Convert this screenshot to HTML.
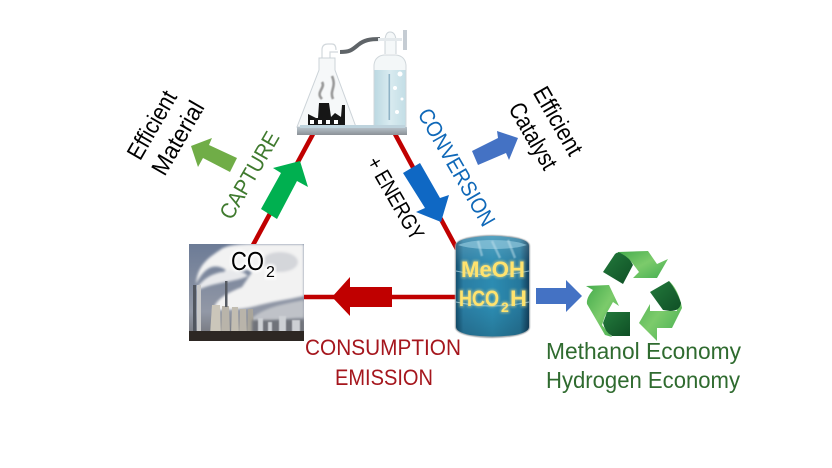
<!DOCTYPE html>
<html><head><meta charset="utf-8"><style>
html,body{margin:0;padding:0;background:#fff}
svg{display:block}
text{font-family:"Liberation Sans",sans-serif}
</style></head><body>
<svg width="832" height="468" viewBox="0 0 832 468" xmlns="http://www.w3.org/2000/svg">
<defs>
<filter id="b1" x="-30%" y="-30%" width="160%" height="160%"><feGaussianBlur stdDeviation="1.2"/></filter>
<filter id="b2" x="-30%" y="-30%" width="160%" height="160%"><feGaussianBlur stdDeviation="0.6"/></filter>
<filter id="gl" x="-20%" y="-30%" width="140%" height="160%"><feGaussianBlur stdDeviation="1.4"/></filter>
<linearGradient id="sky" x1="0" y1="0" x2="0" y2="1"><stop offset="0" stop-color="#6c7b96"/><stop offset=".7" stop-color="#9298a6"/><stop offset="1" stop-color="#6f7075"/></linearGradient>
<linearGradient id="drum" x1="0" y1="0" x2="1" y2="0"><stop offset="0" stop-color="#14506f"/><stop offset=".1" stop-color="#2a7da3"/><stop offset=".5" stop-color="#2c8cb2"/><stop offset=".88" stop-color="#26789c"/><stop offset="1" stop-color="#123f5c"/></linearGradient>
<linearGradient id="drumv" x1="0" y1="0" x2="0" y2="1"><stop offset="0" stop-color="#fff" stop-opacity=".2"/><stop offset=".3" stop-color="#fff" stop-opacity="0"/><stop offset=".7" stop-color="#000" stop-opacity="0"/><stop offset="1" stop-color="#000" stop-opacity=".15"/></linearGradient>
<linearGradient id="lg" x1="0" y1="0" x2="1" y2="1"><stop offset="0" stop-color="#44ab4c"/><stop offset=".5" stop-color="#7ccb6b"/><stop offset="1" stop-color="#43ad50"/></linearGradient>
<linearGradient id="dg" x1="0" y1="0" x2="1" y2="1"><stop offset="0" stop-color="#237a3c"/><stop offset="1" stop-color="#0f4f25"/></linearGradient>
<linearGradient id="tb" x1="0" y1="0" x2="0" y2="1"><stop offset="0" stop-color="#b9c4cc"/><stop offset="1" stop-color="#8b9197"/></linearGradient>
<linearGradient id="wat" x1="0" y1="0" x2="1" y2="0"><stop offset="0" stop-color="#bcd9e2"/><stop offset=".5" stop-color="#d9ebf0"/><stop offset="1" stop-color="#c3dee6"/></linearGradient>
</defs>
<rect width="832" height="468" fill="#fff"/>

<!-- triangle lines -->
<line x1="313" y1="134" x2="253" y2="245" stroke="#c00000" stroke-width="4.5"/>
<line x1="395" y1="134" x2="457" y2="249" stroke="#c00000" stroke-width="4.5"/>
<line x1="302" y1="297" x2="457" y2="297" stroke="#c00000" stroke-width="4.5"/>

<!-- arrows -->
<polygon points="300,161 273,168 281,173 261,209 277,219 297,181 308,187" fill="#00b050"/>
<polygon points="191,146 212,138 209,145 237,158 230,172 203,158 198,167" fill="#70ad47"/>
<polygon points="403,173 420,163 440,198 449,195 441,222 416,212 425,208" fill="#0f68c4"/>
<polygon points="472,151 498,138 497,131 518,138 509,160 506,153 478,165" fill="#4472c4"/>
<polygon points="332,297 350,277 350,287 392,287 392,307 350,307 350,316" fill="#c00000"/>
<polygon points="536,288 566,288 566,280 582,296 566,312 566,304 536,304" fill="#4472c4"/>

<!-- flask scene -->
<g>
<path d="M340 52 C350 52 352 50 358 45 C364 40 370 39 380 39" fill="none" stroke="#5f6468" stroke-width="4"/>
<path d="M322 60 V50 Q322 44 328 44 H332 Q336 44 336 50 M338 52 H330 V58" fill="none" stroke="#d2d8dc" stroke-width="1.2"/>
<path d="M319 58 H335 V70 L356 127 H297 L319 70 Z" fill="#f6f8f9" stroke="#ccd3d8" stroke-width="1"/>
<path d="M322 99 C315 92 326 88 322 82 M333 99 C329 90 337 88 332 76" fill="none" stroke="#999" stroke-width="2.6" filter="url(#b2)"/>
<polygon points="308,128 308,114 316,118 318,118 319,103 329,103 331,117 335,113 341,117 342,105 345,105 345,128" fill="#161616"/>
<g fill="#fff"><rect x="310" y="120" width="4" height="4"/><rect x="318" y="120" width="4" height="4"/><rect x="326" y="120" width="4" height="4"/><rect x="334" y="120" width="4" height="4"/></g>
<path d="M385 54 V42 Q385 32 390 32 Q396 32 396 42 V54" fill="#f5f8f9" stroke="#ccd3d8" stroke-width="1"/>
<rect x="378" y="38" width="24" height="3" fill="#e4e9ec"/>
<rect x="403" y="30" width="4" height="20" fill="#c5ccd3"/>
<path d="M374 65 Q375 56 384 55 H396 Q405 56 406 65 V128 H374 Z" fill="#f3f7f8" stroke="#d0d7db" stroke-width="1"/>
<rect x="374.500" y="70" width="31" height="58" fill="url(#wat)"/>
<rect x="388.500" y="74" width="1.600" height="46" fill="#8fb3c6"/>
<g fill="#fff"><circle cx="400" cy="74" r="2.500"/><circle cx="395" cy="88" r="2"/><circle cx="402" cy="99" r="1.500"/><circle cx="397" cy="112" r="2"/></g>
<rect x="297" y="127" width="110" height="8" fill="url(#tb)"/>
<rect x="300" y="125" width="105" height="3" fill="#bed3dd"/>
</g>

<!-- power plant -->
<g>
<clipPath id="pc"><rect x="189" y="244" width="115" height="97"/></clipPath>
<g clip-path="url(#pc)">
<rect x="189" y="244" width="115" height="97" fill="url(#sky)"/>
<g filter="url(#b1)">
<path d="M196 284 C197 266 208 258 220 250 C226 245 240 244 252 244 L304 244 V296 C286 300 270 302 256 306 C240 310 226 310 213 310 C216 298 230 292 242 287 L252 272 C244 266 232 272 222 272 C212 274 204 278 197 288 C210 282 216 278 226 270 C214 262 204 268 196 284 Z" fill="#f2f2f2"/>
<path d="M197 288 C204 278 214 274 224 272 C232 268 242 270 248 276 C236 282 214 282 198 290 Z" fill="#e8e9ec"/>
<path d="M250 320 C262 308 282 304 304 300 V318 C284 318 266 322 250 328 Z" fill="#bfc2c8"/>
<ellipse cx="280" cy="262" rx="18" ry="10" fill="#d4d6da"/>
</g>
<g fill="#b9b4aa">
<path d="M212 305 h8 l1 30 h-11 z" fill="#cbc6ba"/><path d="M222 306 h7 l1 29 h-9 z"/><path d="M232 307 h6 l1 28 h-8 z" fill="#c2bdb1"/><path d="M240 309 h6 l1 26 h-8 z"/><path d="M248 309 h5 l1 26 h-7 z" fill="#a9a59b"/>
<rect x="193" y="285" width="3" height="50" fill="#51565f"/><rect x="197" y="285" width="4" height="50" fill="#c9c9c9"/>
<rect x="225" y="281" width="2.500" height="26" fill="#555a62"/>
</g>
<rect x="252" y="320" width="52" height="15" fill="#70737a" filter="url(#b1)"/>
<g fill="#cdd0d4" filter="url(#b2)"><rect x="258" y="318" width="5" height="16"/><rect x="268" y="322" width="4" height="12"/><rect x="279" y="316" width="7" height="18"/><rect x="292" y="320" width="8" height="14"/></g>
<rect x="189" y="331" width="115" height="10" fill="#2d2723"/>
</g>
</g>
<g>
<text x="231" y="270" font-size="26" fill="#fff" stroke="#fff" stroke-width="4" filter="url(#gl)" textLength="33" lengthAdjust="spacingAndGlyphs">CO</text>
<text x="266" y="277" font-size="16" fill="#fff" stroke="#fff" stroke-width="4" filter="url(#gl)">2</text>
<text x="231" y="270" font-size="26" fill="#000" textLength="33" lengthAdjust="spacingAndGlyphs">CO</text>
<text x="266" y="277" font-size="16" fill="#000">2</text>
</g>

<!-- drum -->
<g>
<path d="M455 246 Q455 240 470 237 Q492 233 515 237 Q530 240 530 246 V327 Q530 333 515 336 Q492 340 470 336 Q455 333 455 327 Z" fill="#9aa3a8" filter="url(#b2)"/>
<path d="M456 246 Q456 240 470 238 Q492 234 515 238 Q529 240 529 246 V327 Q529 332 515 335 Q492 338 470 335 Q456 332 456 327 Z" fill="url(#drum)"/>
<path d="M456 246 Q456 240 470 238 Q492 234 515 238 Q529 240 529 246 V327 Q529 332 515 335 Q492 338 470 335 Q456 332 456 327 Z" fill="url(#drumv)"/>
<path d="M458 245 Q470 240 492 240 Q515 240 527 245 Q515 249 492 249 Q470 249 458 245 Z" fill="#8fc6dc" opacity=".7"/>
<path d="M492 241 L500 258 M508 240 L515 258 M478 241 L482 256" stroke="#bfe0ec" stroke-width="2.500" opacity=".5" fill="none" filter="url(#b2)"/>
<path d="M456 271 Q492 279 529 271 M456 302 Q492 310 529 302" fill="none" stroke="#b5dbe8" stroke-width="1" opacity=".7"/>
<g fill="#ffdf5f" stroke="#ffe98a" stroke-width="2" opacity=".5" filter="url(#gl)">
<text x="461" y="277" font-size="22" font-weight="bold" textLength="64" lengthAdjust="spacingAndGlyphs">MeOH</text>
<text x="459" y="306" font-size="22" font-weight="bold" textLength="40" lengthAdjust="spacingAndGlyphs">HCO</text>
<text x="501" y="312" font-size="14" font-weight="bold">2</text>
<text x="510" y="306" font-size="22" font-weight="bold" textLength="17" lengthAdjust="spacingAndGlyphs">H</text>
</g>
<text x="461" y="277" font-size="22" font-weight="bold" fill="#ffe36e" textLength="64" lengthAdjust="spacingAndGlyphs">MeOH</text>
<text x="459" y="306" font-size="22" font-weight="bold" fill="#ffe36e" textLength="40" lengthAdjust="spacingAndGlyphs">HCO</text>
<text x="501" y="312" font-size="14" font-weight="bold" fill="#ffe36e">2</text>
<text x="510" y="306" font-size="22" font-weight="bold" fill="#ffe36e" textLength="17" lengthAdjust="spacingAndGlyphs">H</text>
</g>

<!-- recycle -->
<g>
<path d="M618 252 L648 251 L657 264 L668 259 L657 278 L633 278 L639 272 L633 264 Q628 256 618 256 Z" fill="url(#lg)"/>
<path d="M603 272 L615 254 Q618 251 622 254 Q630 258 633 265 L623 284 Z" fill="url(#dg)"/>
<path d="M669 281 Q677 288 681 303 L682 308 L672 328 L657 328 L657 341 L639 323 L650 304 L650 311 L677 311 Z" fill="url(#lg)"/>
<path d="M650 292 L669 281 Q677 291 681 303 Q680 311 670 311 L663 310 Z" fill="url(#dg)"/>
<path d="M586 286 L609 285 L619 306 L613 302 L605 316 L602 325 L612 337 L605 335 L587 304 Q586 298 593 290 Z" fill="url(#lg)"/>
<path d="M607 312 L630 312 L630 336 L612 336 Q605 332 603 323 Z" fill="url(#dg)"/>
</g>

<!-- labels -->
<text x="546" y="359" font-size="23" fill="#2f6b2f" textLength="195" lengthAdjust="spacingAndGlyphs">Methanol Economy</text>
<text x="546" y="388" font-size="23" fill="#2f6b2f" textLength="194" lengthAdjust="spacingAndGlyphs">Hydrogen Economy</text>
<text x="305" y="355" font-size="22" fill="#a5161d" textLength="156" lengthAdjust="spacingAndGlyphs">CONSUMPTION</text>
<text x="335" y="385" font-size="22" fill="#a5161d" textLength="98" lengthAdjust="spacingAndGlyphs">EMISSION</text>

<g text-anchor="middle">
<text transform="translate(249,175) rotate(-60)" y="8" font-size="22" fill="#3f7a2e" textLength="97" lengthAdjust="spacingAndGlyphs">CAPTURE</text>
<text transform="translate(457,167) rotate(60)" y="8" font-size="22" fill="#0f68b8" textLength="132" lengthAdjust="spacingAndGlyphs">CONVERSION</text>
<text transform="translate(396,198) rotate(60)" y="8" font-size="22" fill="#000" textLength="92" lengthAdjust="spacingAndGlyphs">+ ENERGY</text>
<text transform="translate(558,121) rotate(60)" y="8" font-size="24" fill="#000" textLength="75" lengthAdjust="spacingAndGlyphs">Efficient</text>
<text transform="translate(533,136) rotate(60)" y="8" font-size="24" fill="#000" textLength="73" lengthAdjust="spacingAndGlyphs">Catalyst</text>
<text transform="translate(152,125) rotate(-60)" y="8" font-size="24" fill="#000" textLength="75" lengthAdjust="spacingAndGlyphs">Efficient</text>
<text transform="translate(178,138) rotate(-60)" y="8" font-size="24" fill="#000" textLength="81" lengthAdjust="spacingAndGlyphs">Material</text>
</g>
</svg>
</body></html>
